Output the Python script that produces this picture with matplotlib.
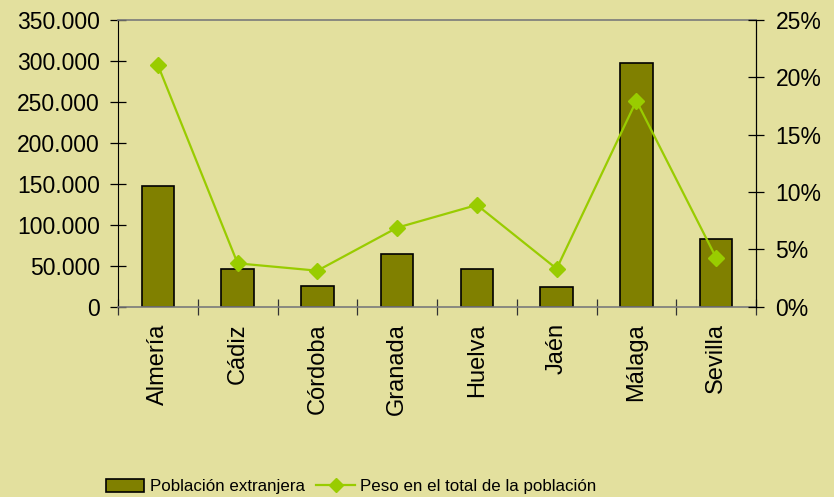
import matplotlib
matplotlib.use("Agg")
import matplotlib.pyplot as plt
from matplotlib.ticker import FuncFormatter, FixedLocator
from matplotlib.patches import Patch
from matplotlib.lines import Line2D

categories = ["Almería", "Cádiz", "Córdoba", "Granada", "Huelva", "Jaén", "Málaga", "Sevilla"]
poblacion = [147700, 46400, 25600, 64300, 46400, 23700, 297800, 83000]
peso = [21.07, 3.78, 3.14, 6.89, 8.87, 3.31, 17.96, 4.27]
left_ticks = [0, 50000, 100000, 150000, 200000, 250000, 300000, 350000]
right_ticks = [0, 5, 10, 15, 20, 25]

BG = "#E3E09E"
BAR = "#808000"
LINE = "#99CC00"

plt.rcParams['font.family'] = ['Liberation Sans', 'DejaVu Sans']

fig = plt.figure(figsize=(8.34, 4.97), dpi=100, facecolor=BG)
W, H = 834, 497
l, r, t, b = 118, 756, 20, 306.7
ax = fig.add_axes([l / W, 1 - b / H, (r - l) / W, (b - t) / H])
ax.set_facecolor(BG)

x = list(range(len(categories)))
ax.bar(x, poblacion, width=0.41, color=BAR, edgecolor="black", linewidth=1.2, zorder=2)
ax.set_xlim(-0.5, len(categories) - 0.5)
ax.set_ylim(0, 350000)
ax.yaxis.set_major_locator(FixedLocator(left_ticks))
ax.yaxis.set_major_formatter(FuncFormatter(lambda v, p: f"{int(v):,}".replace(",", ".")))
ax.set_xticks(x)
ax.set_xticklabels(categories, rotation=90, fontsize=17)
ax.tick_params(axis='x', which='major', length=0, pad=12)
ax.set_xticks([i - 0.5 for i in range(len(categories) + 1)], minor=True)
ax.tick_params(axis='x', which='minor', direction='inout', length=11, width=0.9, color='#333333')
ax.tick_params(axis='y', direction='inout', length=12, width=0.9, labelsize=16.5, pad=7)

for s in ['top', 'bottom']:
    ax.spines[s].set_color('#7a7a7a')
    ax.spines[s].set_linewidth(1.2)
ax.spines['left'].set_color('black')
ax.spines['right'].set_color('black')

ax2 = ax.twinx()
ax2.plot(x, peso, color=LINE, linewidth=1.6, marker='D', markersize=8, zorder=3)
ax2.set_ylim(0, 25)
ax2.yaxis.set_major_locator(FixedLocator(right_ticks))
ax2.yaxis.set_major_formatter(FuncFormatter(lambda v, p: f"{int(v)}%"))
ax2.tick_params(axis='y', direction='inout', length=12, width=0.9, labelsize=16.5, pad=8)
ax2.spines['top'].set_visible(False)
ax2.spines['bottom'].set_visible(False)
ax2.spines['left'].set_visible(False)
ax2.spines['right'].set_color('black')

handles = [Patch(facecolor=BAR, edgecolor='black', linewidth=1.2),
           Line2D([], [], color=LINE, linewidth=1.6, marker='D', markersize=7)]
fig.legend(handles, ["Población extranjera", "Peso en el total de la población"],
           loc='lower center', bbox_to_anchor=(0.421, 0.0), ncol=2, frameon=False,
           prop={'family': ['Liberation Sans'], 'size': 12.2},
           borderpad=0.15, borderaxespad=0.0,
           handlelength=2.3, handleheight=0.85, handletextpad=0.3, columnspacing=0.7)

fig.savefig("out.png", dpi=100, facecolor=BG)
